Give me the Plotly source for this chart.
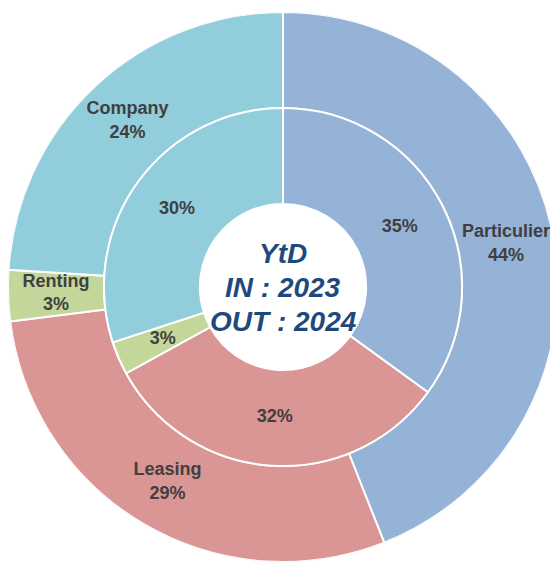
import plotly.graph_objects as go

categories = ["Particulier", "Leasing", "Renting", "Company"]
values_2024 = [44, 29, 3, 24]   # outer ring (OUT : 2024)
values_2023 = [35, 32, 3, 30]   # inner ring (IN : 2023)
colors = ["#95B3D7", "#DA9694", "#C4D79B", "#92CDDC"]
center_lines = ["YtD", "IN : 2023", "OUT : 2024"]

W, H = 550, 555
cx, cy = 275.0, 279.0        # pixel centre inside the figure
R_PX = 275.0                 # outer radius in px
# radial scale (axis units): hole / ring boundary / outer edge
R_HOLE, R_MID, R_OUT = 84, 181, 278


def ring_geometry(values):
    total = sum(values)
    widths = [v / total * 360 for v in values]
    starts = [sum(widths[:i]) for i in range(len(widths))]
    mids = [s + w / 2 for s, w in zip(starts, widths)]
    return mids, widths


mid_o, w_o = ring_geometry(values_2024)
mid_i, w_i = ring_geometry(values_2023)

outer_text = [f"{c}<br>{v}%" for c, v in zip(categories, values_2024)]
inner_text = [f"{v}%" for v in values_2023]
lbl_font = dict(family="Liberation Sans, Arial", size=18, color="#404040", weight="bold")

fig = go.Figure()
fig.add_trace(go.Barpolar(
    theta=mid_o, width=w_o, base=[R_MID] * 4, r=[R_OUT - R_MID] * 4,
    marker=dict(color=colors, line=dict(color="white", width=2)),
    hovertext=categories, showlegend=False,
))
fig.add_trace(go.Barpolar(
    theta=mid_i, width=w_i, base=[R_HOLE] * 4, r=[R_MID - R_HOLE] * 4,
    marker=dict(color=colors, line=dict(color="white", width=2)),
    hovertext=categories, showlegend=False,
))
fig.add_trace(go.Scatterpolar(
    theta=mid_o, r=[(R_MID + R_OUT) / 2] * 4, text=outer_text,
    mode="text", textfont=lbl_font, textposition="middle center",
    showlegend=False, hoverinfo="skip",
))
fig.add_trace(go.Scatterpolar(
    theta=mid_i, r=[(R_HOLE + R_MID) / 2] * 4, text=inner_text,
    mode="text", textfont=lbl_font, textposition="middle center",
    showlegend=False, hoverinfo="skip",
))

for i, t in enumerate(center_lines):
    fig.add_annotation(
        x=cx / W, y=(H - cy) / H, xref="paper", yref="paper",
        yshift=(1 - i) * 34,
        text=f"<b><i>{t}</i></b>",
        showarrow=False, align="center",
        font=dict(family="Liberation Sans, Arial", size=28, color="#1F497D"),
    )

fig.update_layout(
    width=W, height=H, margin=dict(l=0, r=0, t=0, b=0),
    paper_bgcolor="white", plot_bgcolor="white",
    polar=dict(
        domain=dict(x=[(cx - R_PX) / W, (cx + R_PX) / W],
                    y=[(H - (cy + R_PX)) / H, (H - (cy - R_PX)) / H]),
        bgcolor="white", barmode="overlay",
        radialaxis=dict(range=[0, R_OUT], visible=False),
        angularaxis=dict(rotation=90, direction="clockwise", visible=False,
                         showgrid=False, showline=False, ticks=""),
    ),
)
fig.write_html("out.html")
